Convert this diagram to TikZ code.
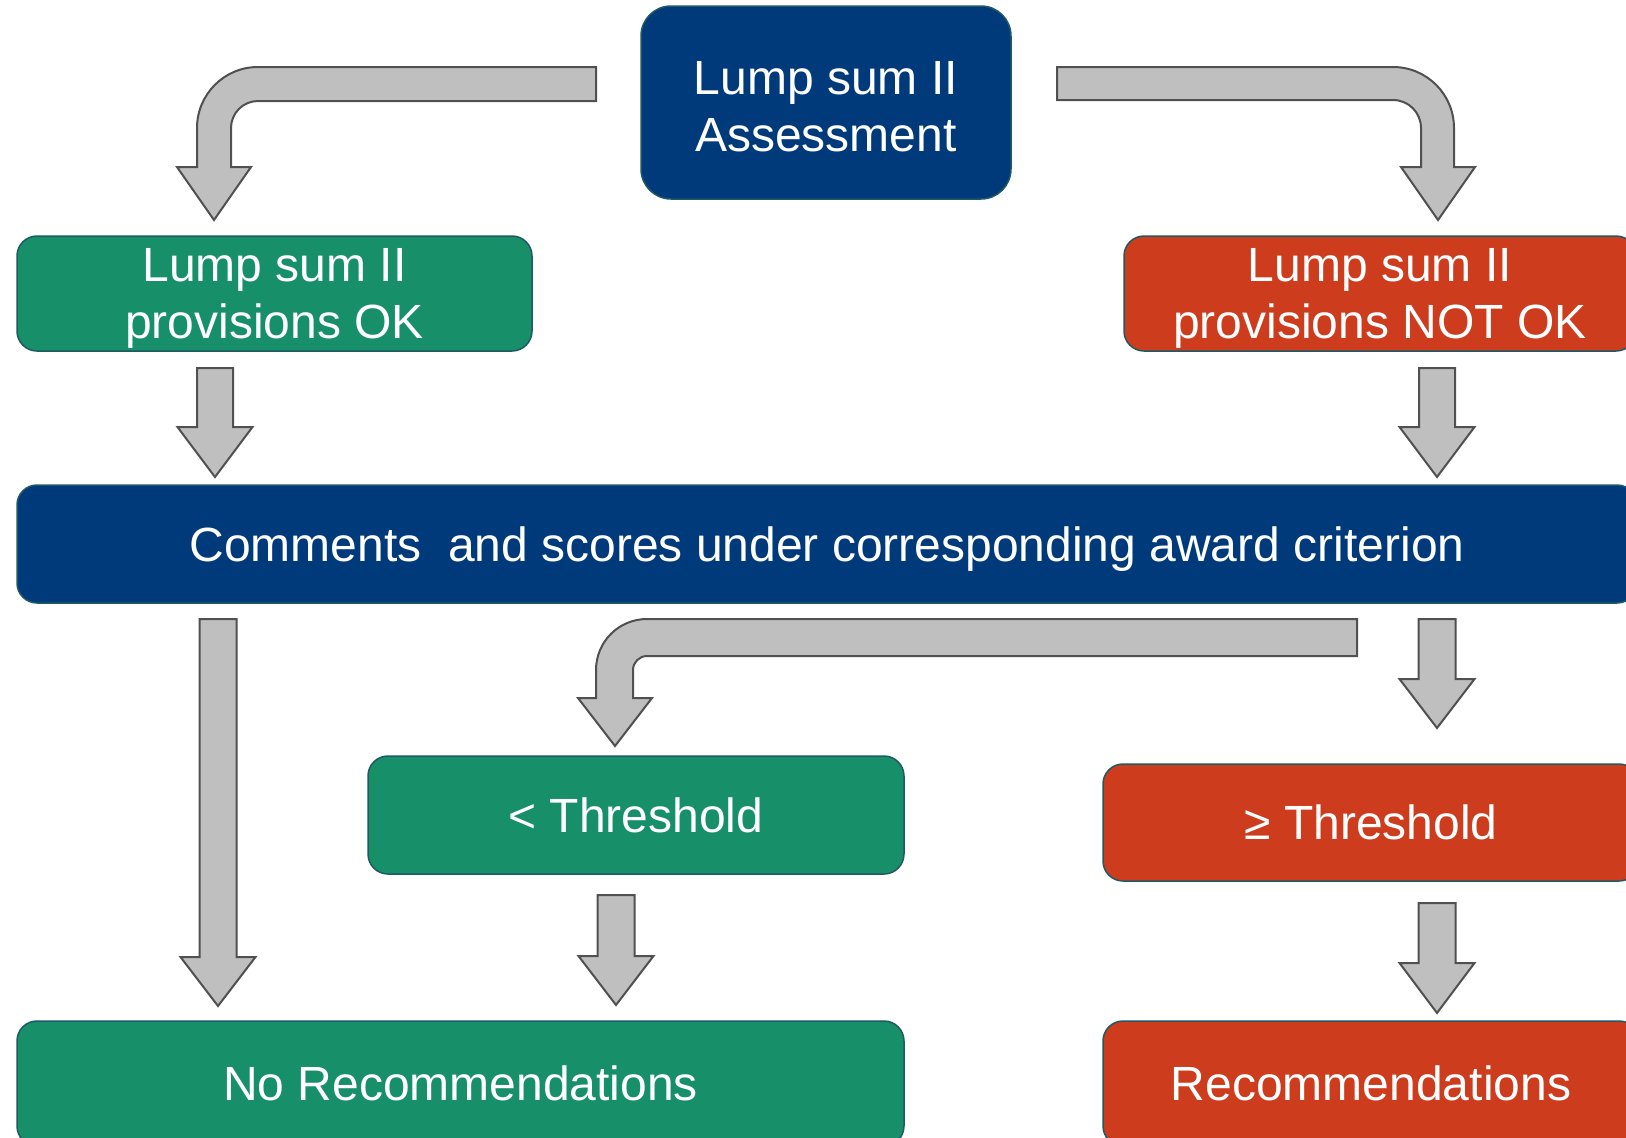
\documentclass[tikz,border=0pt]{standalone}
\usepackage{fontspec}
\setmainfont{Liberation Sans}
\definecolor{navy}{RGB}{0,58,122}
\definecolor{okgreen}{RGB}{23,144,106}
\definecolor{nokred}{RGB}{206,60,30}
\definecolor{edge}{RGB}{30,90,100}
\definecolor{arrfill}{RGB}{191,191,191}
\definecolor{arrline}{RGB}{80,80,80}
\tikzset{
  boxstyle/.style={draw=edge, line width=1.5pt, rounded corners=20pt, text=white,
    font=\fontsize{48}{57}\selectfont, align=center, inner sep=0pt, text depth=0pt},
  blockarrow/.style={draw=arrline, fill=arrfill, line width=2pt, line join=miter},
}
\newcommand{\blockdown}[5]{% cx, half shaft, top, head y, tip y
  \draw[blockarrow] ({#1-#2},#3) -- ({#1+#2},#3) -- ({#1+#2},#4) -- ({#1+37.5},#4)
    -- (#1,#5) -- ({#1-37.5},#4) -- ({#1-#2},#4) -- cycle;}
\begin{document}
\begin{tikzpicture}[x=1pt,y=-1pt]
\useasboundingbox (0,0) rectangle (1626,1138);
\clip (0,0) rectangle (1626,1138);
\fill[white] (0,0) rectangle (1626,1138);

% boxes
\node[boxstyle, fill=navy, rounded corners=30pt, text height=98pt, minimum width=370pt, minimum height=193pt] (assess) at (826,102.5) {Lump sum II\\Assessment};
\node[boxstyle, fill=okgreen, minimum width=515pt, minimum height=115pt] (ok) at (274.5,293.5) {Lump sum II\\provisions OK};
\node[boxstyle, fill=nokred, minimum width=512pt, minimum height=115pt] (nok) at (1380,293.5) {Lump sum II\\provisions NOT OK};
\node[boxstyle, fill=navy, minimum width=1620pt, minimum height=118pt] (comments) at (827,544) {Comments\ \ and scores under corresponding award criterion};
\node[boxstyle, fill=okgreen, minimum width=536pt, minimum height=118pt] (lt) at (636,815) {< Threshold};
\node[boxstyle, fill=nokred, minimum width=536pt, minimum height=117pt] (ge) at (1371,822.5) {≥ Threshold};
\node[boxstyle, fill=okgreen, minimum width=887pt, minimum height=125pt] (norec) at (460.5,1083.5) {No Recommendations};
\node[boxstyle, fill=nokred, minimum width=536pt, minimum height=125pt] (rec) at (1371,1083.5) {Recommendations};

% bent arrows
\draw[blockarrow] (596,67) -- (258,67) .. controls (224.3,67) and (197,94.3) .. (197,128)
  -- (197,167) -- (177,167) -- (214,220) -- (251,167) -- (231,167) -- (231,128)
  .. controls (231,113.1) and (243.1,101) .. (258,101) -- (596,101) -- cycle;
\draw[blockarrow] (1057,67) -- (1393,67) .. controls (1426.7,67) and (1454,94.3) .. (1454,128)
  -- (1454,167) -- (1475,167) -- (1438,220) -- (1401,167) -- (1421,167) -- (1421,128)
  .. controls (1421,112.5) and (1408.5,100) .. (1393,100) -- (1057,100) -- cycle;
\draw[blockarrow] (1357,619) -- (647,619) .. controls (618.8,619) and (596,641.8) .. (596,670)
  -- (596,698) -- (578,698) -- (615,746) -- (652,698) -- (633,698) -- (633,670)
  .. controls (633,662.3) and (639.3,656) .. (647,656) -- (1357,656) -- cycle;

% straight arrows
\blockdown{215}{18}{368}{427}{477}
\blockdown{1437}{18}{368}{427}{477}
\blockdown{218}{18.5}{619}{957}{1006}
\blockdown{1437}{18.5}{619}{679}{728}
\blockdown{616}{18.5}{895}{956}{1005}
\blockdown{1437}{18.5}{903}{963}{1013}
\end{tikzpicture}
\end{document}
